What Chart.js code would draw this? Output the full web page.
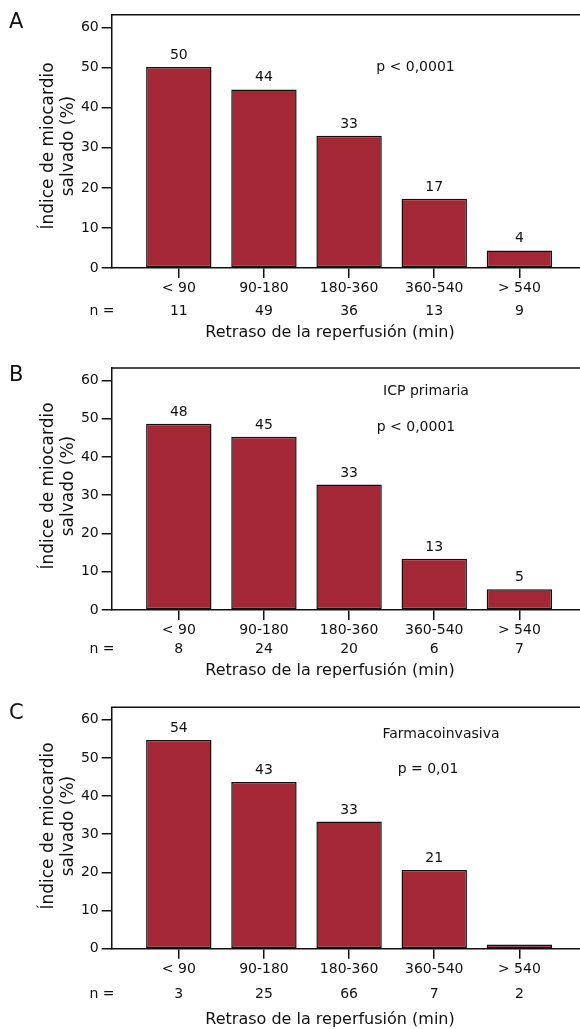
<!DOCTYPE html>
<html><head><meta charset="utf-8">
<script src="https://cdn.jsdelivr.net/npm/chart.js@4"></script>
<style>
html,body{margin:0;padding:0;background:#fff;width:580px;height:1029px;overflow:hidden}
.p{position:absolute;left:0;width:580px}
</style></head><body>
<div class="p" style="top:0;height:340px"><canvas id="cA"></canvas></div>
<div class="p" style="top:340px;height:340px"><canvas id="cB"></canvas></div>
<div class="p" style="top:680px;height:349px"><canvas id="cC"></canvas></div>
<script>
// ---- data ----
const categories = ['< 90', '90-180', '180-360', '360-540', '> 540'];
const yTicks = [0, 10, 20, 30, 40, 50, 60];

const valuesA = [50.2, 44.6, 33.0, 17.3, 4.4];
const labelsA = ['50', '44', '33', '17', '4'];
const nA = ['11', '49', '36', '13', '9'];
const notesA = ['p < 0,0001'];

const valuesB = [48.7, 45.3, 32.8, 13.4, 5.4];
const labelsB = ['48', '45', '33', '13', '5'];
const nB = ['8', '24', '20', '6', '7'];
const notesB = ['ICP primaria', 'p < 0,0001'];

const valuesC = [54.7, 43.7, 33.3, 20.6, 1.1];
const labelsC = ['54', '43', '33', '21', ''];
const nC = ['3', '25', '66', '7', '2'];
const notesC = ['Farmacoinvasiva', 'p = 0,01'];

const nLabel = 'n =';
const xTitle = 'Retraso de la reperfusión (min)';
const yTitle = ['Índice de miocardio', 'salvado (%)'];

// ---- style ----
const FONT = 'DejaVu Sans';
const BAR = '#A32734';
const INK = '#111';

function makePanel(id, letter, values, valueLabels, nValues, notes, L) {
  const deco = {
    id: 'deco',
    afterDraw(chart) {
      const c = chart.ctx, ca = chart.chartArea, xs = chart.scales.x;
      c.save();
      c.strokeStyle = INK; c.lineWidth = 1.5;
      c.beginPath(); c.moveTo(ca.left - 0.75, ca.top); c.lineTo(ca.right, ca.top); c.stroke();
      c.fillStyle = INK;
      c.font = '14px "' + FONT + '"';
      c.textAlign = 'center'; c.textBaseline = 'alphabetic';
      chart.getDatasetMeta(0).data.forEach((bar, i) => {
        c.fillText(valueLabels[i], bar.x, bar.y - 8);
      });
      c.textBaseline = 'middle';
      c.fillText(nLabel, 102, ca.bottom + L.nOff);
      nValues.forEach((t, i) => c.fillText(t, xs.getPixelForValue(i), ca.bottom + L.nOff));
      notes.forEach((t, i) => c.fillText(t, L.notes[i][0], L.notes[i][1]));
      c.font = '16px "' + FONT + '"';
      c.fillText(xTitle, 330, ca.bottom + L.titleOff);
      c.font = '17px "' + FONT + '"';
      c.textBaseline = 'alphabetic';
      [53, 72.5].forEach((bx, i) => {
        c.save(); c.translate(bx, 146); c.rotate(-Math.PI / 2);
        c.fillText(yTitle[i], 0, 0); c.restore();
      });
      c.font = '21px "' + FONT + '"';
      c.textAlign = 'left';
      c.fillText(letter, 9, L.letterBase);
      c.restore();
    }
  };
  new Chart(document.getElementById(id), {
    type: 'bar',
    data: { datasets: [{
      data: values.map((v, i) => ({ x: i, y: v })),
      backgroundColor: BAR, borderColor: INK, borderWidth: 1.5, borderSkipped: false,
      categoryPercentage: 1, barPercentage: 0.768
    }] },
    options: {
      responsive: true, maintainAspectRatio: false, animation: false,
      layout: { padding: { top: L.frameTop, left: 0, right: 0, bottom: 0 } },
      plugins: { legend: { display: false }, tooltip: { enabled: false } },
      scales: {
        x: {
          type: 'linear', min: -0.788, max: 4.712, offset: false,
          afterBuildTicks: s => { s.ticks = categories.map((c, i) => ({ value: i })); },
          afterFit: s => { s.height = L.height - L.zero; },
          ticks: { callback: v => categories[v], color: INK, font: { family: FONT, size: 14 },
                   padding: 2, autoSkip: false, maxRotation: 0 },
          grid: { offset: false, drawOnChartArea: false, tickLength: 10, color: INK, lineWidth: 1.5 },
          border: { display: true, color: INK, width: 1.5 }
        },
        y: {
          min: 0, max: 63.25,
          afterBuildTicks: s => { s.ticks = yTicks.map(v => ({ value: v })); },
          afterFit: s => { s.width = 111.7; },
          ticks: { color: INK, font: { family: FONT, size: 14 }, padding: 3 },
          grid: { drawOnChartArea: false, tickLength: 10, color: INK, lineWidth: 1.5 },
          border: { display: true, color: INK, width: 1.5 }
        }
      }
    },
    plugins: [deco]
  });
}

makePanel('cA', 'A', valuesA, labelsA, nA, notesA,
  { height: 340, frameTop: 14.7, zero: 268, nOff: 43.7, titleOff: 65, letterBase: 28.4,
    notes: [[415.5, 67]] });
makePanel('cB', 'B', valuesB, labelsB, nB, notesB,
  { height: 340, frameTop: 28, zero: 270, nOff: 39.3, titleOff: 61, letterBase: 40.7,
    notes: [[426, 51], [416, 87.6]] });
makePanel('cC', 'C', valuesC, labelsC, nC, notesC,
  { height: 349, frameTop: 27.3, zero: 268.7, nOff: 45.6, titleOff: 70.8, letterBase: 39,
    notes: [[441, 54], [428, 89.6]] });
</script>
</body></html>
